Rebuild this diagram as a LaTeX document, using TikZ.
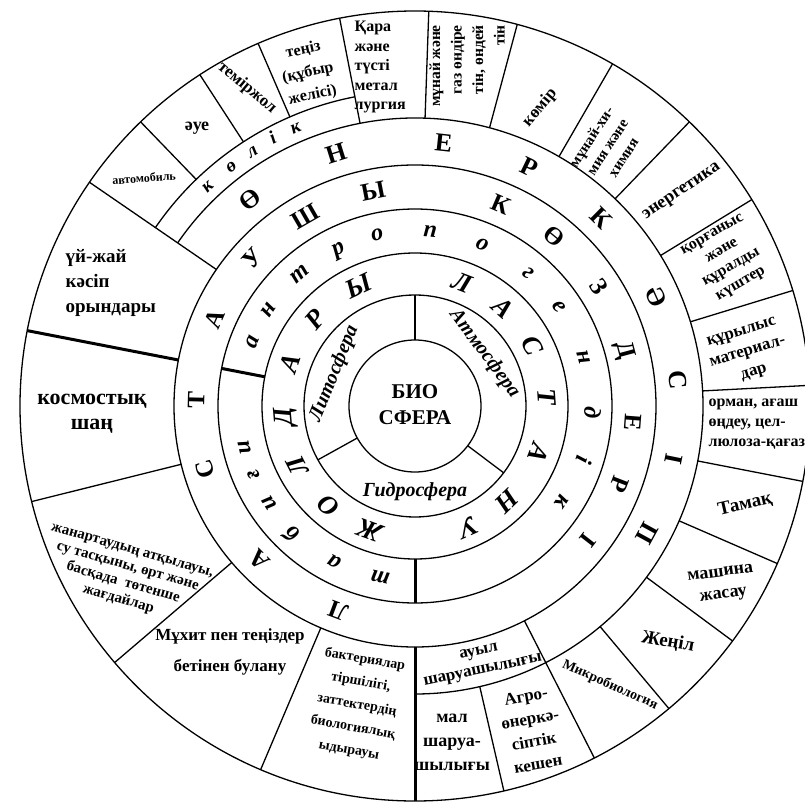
\documentclass[tikz,border=0pt]{standalone}
\usepackage{fontspec}
\setmainfont{Liberation Serif}
\newcommand{\fz}[2]{\fontsize{#1}{#2}\selectfont\bfseries}
\begin{document}
\begin{tikzpicture}[x=1pt,y=1pt,line width=1.3pt,
  thickline/.style={line width=3pt},
  txt/.style={inner sep=0pt,align=center},
  rtwo/.style={inner sep=0pt,font=\fontsize{27}{27}\selectfont\bfseries\itshape,text height=17pt,text depth=0pt},
  rthree/.style={inner sep=0pt,font=\fontsize{24}{24}\selectfont\bfseries\itshape,text height=11pt,text depth=0pt},
  rfour/.style={inner sep=0pt,font=\fontsize{25}{25}\selectfont\bfseries,text height=16.5pt,text depth=0pt},
  rfive/.style={inner sep=0pt,font=\fontsize{26}{26}\selectfont\bfseries,text height=17pt,text depth=0pt},
  rkol/.style={inner sep=0pt,font=\fontsize{19}{19}\selectfont\bfseries\itshape,text height=8.5pt,text depth=0pt},
  sph/.style={inner sep=0pt,font=\fontsize{20}{20}\selectfont\bfseries\itshape}]
\useasboundingbox (-415,-395) rectangle (390,406);
\fill[white] (-415,-395) rectangle (390,406);

% circles
\foreach \r in {66,111,153,197,241,395} \draw (0,0) circle (\r);
\draw (145.5:288) arc[start angle=145.5,end angle=-90,radius=288];
\draw (145.5:315) arc[start angle=145.5,end angle=101,radius=315];

% sphere dividers
\foreach \a in {90,209,-37} \draw (\a:66) -- (\a:111);

% ring 3 dividers (thick)
\draw[thickline] (169:153) -- (169:197);
\draw[thickline] (270:153) -- (270:197);

% full-depth sector lines
\draw[thickline] (169:241) -- (169:395);
\draw[thickline] (270:241) -- (270:395);
\foreach \a in {145.5,194,220.5,247,-63} \draw (\a:241) -- (\a:395);
\foreach \a in {101,88,75,60,46,31.5,17,3,-11,-23.5,-36.5,-50,-77} \draw (\a:288) -- (\a:395);
\foreach \a in {134,123,113.4} \draw (\a:315) -- (\a:395);

% centre
\node[txt,font=\fz{21}{26}] (bio) at (0,1) {БИО\\СФЕРА};
\node[sph,rotate=68] (lito) at (158:87) {Литосфера};
\node[sph,rotate=-53] (atmo) at (37:87) {Атмосфера};
\node[sph] (gidro) at (0,-86) {Гидросфера};

% ring 2
\foreach \ch/\a [count=\i] in {Л/69,А/48,С/27,Т/4,А/-21,Н/-46,У/-66,Ж/250,О/229,Л/207,Д/185,А/161,Р/139,Ы/115}
  \node[rtwo,rotate=\a-90] (rtw\i) at (\a:132) {\ch};

% ring 3
\foreach \ch/\a [count=\i] in {а/158.6,н/146.5,т/131.3,р/116,о/102.4,п/85,о/67.4,г/49.5,е/34.6,н/16,д/-2.3,і/-17.6,к/-33,т/258.5,а/242.5,б/226,и/213.5,ғ/203,и/193.5}
  \node[rthree,rotate=\a-90] (rth\i) at (\a:175) {\ch};

% ring 4
\foreach \ch/\a [count=\i] in {Л/249.4,А/224.8,С/196.8,Т/178.5,А/156.5,У/137.7,Ш/120,Ы/101,К/67,Ө/50.6,З/33,Д/15,Е/-4.4,Р/-21,І/-38}
  \node[rfour,rotate=\a-90] (rfo\i) at (\a:219) {\ch};

% ring 5
\foreach \ch/\a [count=\i] in {Ө/128.6,Н/107.4,Е/83.8,Р/64.3,К/45.2,Ә/24.3,С/5.7,І/-11.5,П/-28.7}
  \node[rfive,rotate=\a-90] (rfi\i) at (\a:264.5) {\ch};

% kolik band
\foreach \ch/\a [count=\i] in {к/133.4,ө/127.5,л/122.6,і/118,к/113.3}
  \node[rkol,rotate=\a-90] (rko\i) at (\a:301.5) {\ch};

% outer sectors
\node[txt,rotate=4,font=\fz{12}{14}] (avto) at (-271,228) {автомобиль};
\node[txt,font=\fz{18}{20}] (aue) at (-218,278) {әуе};
\node[txt,rotate=-40,font=\fz{17}{19}] (temir) at (-168,318) {теміржол};
\node[txt,rotate=12,font=\fz{16}{23}] (teniz) at (-107,333) {теңіз\\(құбыр\\желісі)};
\node[txt,align=left,anchor=west,font=\fz{16}{19.5}] (kara) at (-61,339) {Қара\\және\\түсті\\метал\\лургия};
\node[txt,align=right,rotate=90,font=\fz{15.5}{21.5}] (munai) at (52,340) {мұнай және\\газ өндіре\\тін, өндей\\тін};
\node[txt,rotate=50,font=\fz{17}{19}] (komir) at (125,298) {көмір};
\node[txt,rotate=57,font=\fz{15}{19}] (munaihim) at (192,259) {мұнай-хи-\\мия және\\химия};
\node[txt,rotate=34,font=\fz{18}{20}] (energ) at (267,214) {энергетика};
\node[txt,rotate=30,font=\fz{16}{19}] (korg) at (312,146) {қорғаныс\\және\\құралды\\күштер};
\node[txt,rotate=17,font=\fz{17}{21}] (kuryl) at (333,53) {құрылыс\\материал-\\дар};
\node[txt,align=left,anchor=west,font=\fz{16}{20}] (orman) at (293,-18) {орман, ағаш\\өңдеу, цел-\\люлоза-қағаз};
\node[txt,rotate=13,font=\fz{19}{20}] (tamak) at (330,-99) {Тамақ};
\node[txt,rotate=8,font=\fz{18}{22}] (mashina) at (307,-179) {машина\\жасау};
\node[txt,rotate=-10,font=\fz{19}{20}] (zhenil) at (253,-236) {Жеңіл};
\node[txt,rotate=-24,font=\fz{14}{15}] (mikro) at (195,-279) {Микробиология};
\node[txt,rotate=12,font=\fz{17}{19}] (auyl) at (66,-256) {ауыл\\шаруашылығы};
\node[txt,font=\fz{18}{24}] (mal) at (37,-336) {мал\\шаруа-\\шылығы};
\node[txt,rotate=10,font=\fz{17}{23}] (agro) at (117,-324) {Агро-\\өнеркә-\\сіптік\\кешен};
\node[txt,rotate=-10,font=\fz{14}{23}] (bakt) at (-58,-299) {бактериялар\\тіршілігі,\\заттектердің\\биологиялық\\ыдырауы};
\node[txt,font=\fz{17}{31}] (muhit) at (-185,-246) {Мұхит пен теңіздер\\бетінен булану};
\node[txt,rotate=-16,font=\fz{15}{17}] (zhanar) at (-290,-170) {жанартаудың атқылауы,\\су тасқыны, өрт және\\басқада\ \ төтенше\\жағдайлар};
\node[txt,font=\fz{22}{25}] (kosmos) at (-323,-8) {космостық\\шаң};
\node[txt,align=left,anchor=west,font=\fz{19}{25}] (uizhai) at (-350,123) {үй-жай\\кәсіп\\орындары};
\end{tikzpicture}
\end{document}
